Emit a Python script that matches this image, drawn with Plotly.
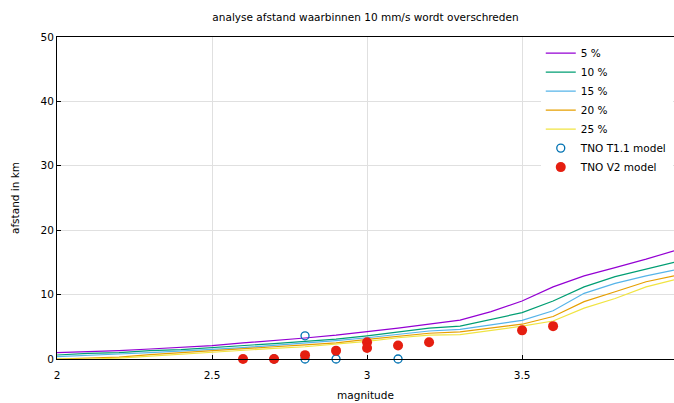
import plotly.graph_objects as go

mag = [2.0, 2.1, 2.2, 2.3, 2.4, 2.5, 2.6, 2.7, 2.8, 2.9, 3.0, 3.1, 3.2, 3.3, 3.4, 3.5, 3.6, 3.7, 3.8, 3.9, 3.99]
p5 = [0.98, 1.1, 1.3, 1.55, 1.76, 2.07, 2.5, 2.85, 3.26, 3.7, 4.2, 4.8, 5.4, 6.05, 7.35, 9.0, 11.2, 12.9, 14.2, 15.5, 16.8]
p10 = [0.62, 0.88, 1.0, 1.3, 1.45, 1.76, 2.0, 2.4, 2.75, 3.1, 3.6, 4.2, 4.8, 5.1, 6.2, 7.2, 9.0, 11.2, 12.8, 13.9, 15.0]
p15 = [0.36, 0.62, 0.78, 1.0, 1.2, 1.5, 1.76, 2.1, 2.4, 2.85, 3.3, 3.8, 4.35, 4.6, 5.3, 6.0, 7.5, 10.2, 11.75, 12.9, 13.8]
p20 = [0.0, 0.1, 0.3, 0.67, 1.0, 1.24, 1.55, 1.9, 2.2, 2.5, 3.05, 3.5, 4.0, 4.2, 4.8, 5.4, 6.6, 8.9, 10.45, 12.0, 12.9]
p25 = [0.0, 0.0, 0.15, 0.47, 0.78, 1.1, 1.35, 1.65, 1.9, 2.3, 2.75, 3.3, 3.7, 3.8, 4.4, 5.1, 5.9, 7.9, 9.4, 11.2, 12.3]

t11_mag = [2.7, 2.8, 2.8, 2.9, 3.1]
t11_val = [0.0, 3.6, 0.0, 0.0, 0.0]

v2_mag = [2.6, 2.7, 2.8, 2.9, 3.0, 3.0, 3.1, 3.2, 3.5, 3.6]
v2_val = [0.0, 0.0, 0.6, 1.3, 2.6, 1.7, 2.1, 2.6, 4.45, 5.1]

series = [("5 %", p5, "#9400d3"), ("10 %", p10, "#009e73"), ("15 %", p15, "#56b4e9"),
          ("20 %", p20, "#e69f00"), ("25 %", p25, "#f0e442")]

fig = go.Figure()
for name, vals, col in series:
    fig.add_trace(go.Scatter(x=mag, y=vals, mode="lines", name=name,
                             line=dict(color=col, width=1.2)))

fig.add_trace(go.Scatter(x=t11_mag, y=t11_val, mode="markers", name="TNO T1.1 model",
                         marker=dict(symbol="circle-open", size=8, color="#0072b2",
                                     line=dict(width=1.3, color="#0072b2")),
                         cliponaxis=False))
fig.add_trace(go.Scatter(x=v2_mag, y=v2_val, mode="markers", name="TNO V2 model",
                         marker=dict(symbol="circle", size=10, color="#e51e10"),
                         cliponaxis=False))

font = "DejaVu Sans"
fs = 10.5
fig.update_layout(
    width=674, height=403,
    margin=dict(l=57, r=0, t=37, b=44, autoexpand=False),
    paper_bgcolor="white", plot_bgcolor="white",
    font=dict(family=font, size=fs, color="#000"),
    title=dict(text="analyse afstand waarbinnen 10 mm/s wordt overschreden",
               xref="paper", x=0.5, xanchor="center", y=0.958, yanchor="middle",
               font=dict(family=font, size=fs, color="#000")),
    legend=dict(x=0.998, y=0.995, xanchor="right", yanchor="top", bgcolor="white",
                font=dict(family=font, size=fs), tracegroupgap=0,
                itemwidth=30),
    showlegend=True,
)
fig.update_xaxes(range=[2, 3.99], tickvals=[2, 2.5, 3, 3.5], ticktext=["2", "2.5", "3", "3.5"],
                 showgrid=True, gridcolor="#e0e0e0", gridwidth=1, automargin=False,
                 showline=True, linecolor="black", linewidth=1, mirror=True,
                 ticks="inside", ticklen=4, tickcolor="black", zeroline=False,
                 ticklabelstandoff=6,
                 title=dict(text="magnitude", standoff=12, font=dict(size=fs)))
fig.update_yaxes(range=[0, 50], tickvals=[0, 10, 20, 30, 40, 50],
                 showgrid=True, gridcolor="#e0e0e0", gridwidth=1, automargin=False,
                 showline=True, linecolor="black", linewidth=1, mirror=False,
                 ticks="inside", ticklen=4, tickcolor="black", zeroline=False,
                 title=dict(text="afstand in km", standoff=18, font=dict(size=fs)))

fig.write_html("out.html", config={"displayModeBar": False},
               post_script="document.body.style.margin='0';document.body.style.overflow='hidden';")
